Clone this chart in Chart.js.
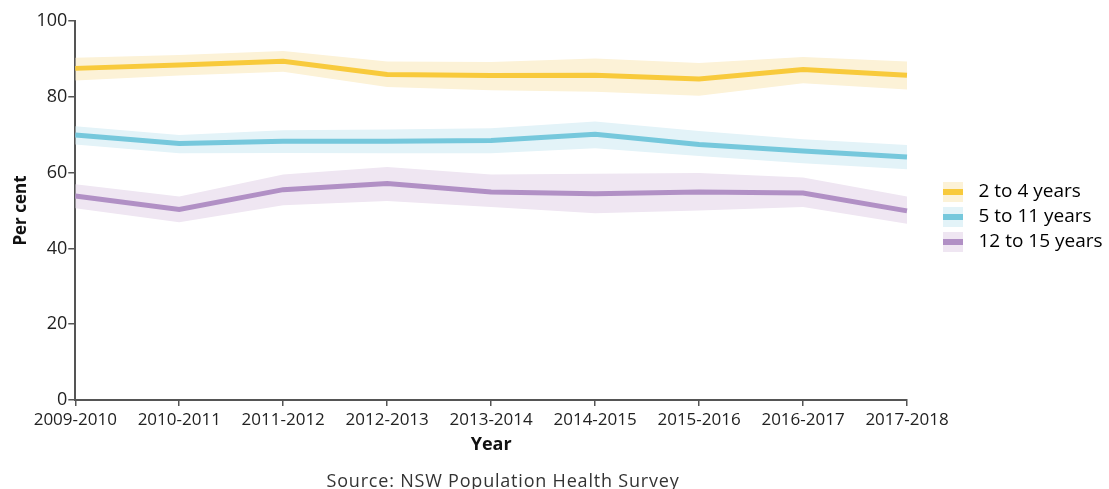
<!DOCTYPE html>
<html>
<head>
<meta charset="utf-8">
<script src="https://cdn.jsdelivr.net/npm/chart.js@4/dist/chart.umd.min.js"></script>
<style>
  html, body { margin: 0; padding: 0; background: #fff; }
  #wrap { position: relative; width: 1109px; height: 489px; }
  #source {
    position: absolute; left: 0; top: 468px; width: 1006px;
    text-align: center; font-family: "Open Sans", sans-serif; font-size: 18px;
    letter-spacing: 0.8px; color: #333;
  }
</style>
</head>
<body>
<div id="wrap">
  <canvas id="chart" width="1109" height="489"></canvas>
  <div id="source">Source: NSW Population Health Survey</div>
</div>
<script>
const years = ["2009-2010", "2010-2011", "2011-2012", "2012-2013", "2013-2014",
  "2014-2015", "2015-2016", "2016-2017", "2017-2018"];
const yTicks = [0, 20, 40, 60, 80, 100];

const age2to4 = [87.5, 88.4, 89.4, 85.9, 85.6, 85.7, 84.7, 87.2, 85.7];
const age2to4Upper = [90.3, 91.0, 92.1, 89.3, 89.2, 90.1, 88.9, 90.5, 89.3];
const age2to4Lower = [84.3, 85.6, 86.6, 82.6, 81.7, 81.3, 80.3, 83.6, 81.9];

const age5to11 = [69.9, 67.7, 68.3, 68.3, 68.5, 70.1, 67.4, 65.7, 64.1];
const age5to11Upper = [72.2, 69.9, 71.2, 71.4, 71.7, 73.5, 71.0, 68.8, 67.3];
const age5to11Lower = [67.4, 65.1, 65.2, 65.1, 65.1, 66.4, 64.4, 62.5, 60.9];

const age12to15 = [53.8, 50.3, 55.5, 57.1, 54.9, 54.4, 54.9, 54.6, 49.9];
const age12to15Upper = [56.9, 53.7, 59.5, 61.5, 59.5, 59.7, 59.9, 58.7, 53.7];
const age12to15Lower = [50.6, 46.9, 51.4, 52.5, 50.9, 49.3, 50.0, 50.9, 46.5];

const seriesNames = ["2 to 4 years", "5 to 11 years", "12 to 15 years"];
const lineColors = ["#f8ca3c", "#76c8dc", "#b190c5"];
const bandColors = ["#fcf2d7", "#e3f3f8", "#efe6f2"];

function legendIcon(lineColor, bandColor) {
  const c = document.createElement("canvas");
  c.width = 20; c.height = 20;
  const g = c.getContext("2d");
  g.fillStyle = bandColor;
  g.fillRect(0, 0, 20, 20);
  g.fillStyle = lineColor;
  g.fillRect(0, 7, 20, 6);
  return c;
}

function band(upper, lower, color) {
  return [
    { label: "upper", data: upper, borderWidth: 0, pointRadius: 0, backgroundColor: color,
      fill: "+1", tension: 0, order: 5 },
    { label: "lower", data: lower, borderWidth: 0, pointRadius: 0, backgroundColor: color,
      fill: false, tension: 0, order: 5 }
  ];
}

function line(name, data, color) {
  return { label: name, data: data, borderColor: color, backgroundColor: color, borderWidth: 5,
    pointRadius: 0, fill: false, tension: 0, order: 1 };
}

const datasets = [
  ...band(age2to4Upper, age2to4Lower, bandColors[0]),
  ...band(age5to11Upper, age5to11Lower, bandColors[1]),
  ...band(age12to15Upper, age12to15Lower, bandColors[2]),
  line(seriesNames[0], age2to4, lineColors[0]),
  line(seriesNames[1], age5to11, lineColors[1]),
  line(seriesNames[2], age12to15, lineColors[2])
];

const axisColor = "#555";
const font = "'Open Sans', sans-serif";

// legend sits in a fixed-width column right of the plot
const legendPlacement = {
  id: "legendPlacement",
  afterInit(chart) {
    const legend = chart.legend;
    const fit = legend.fit;
    legend.fit = function () {
      fit.call(this);
      this.width = 202;
    };
  },
  afterLayout(chart) {
    const legend = chart.legend;
    legend.left = 931;
    legend.top = 127;
    legend.bottom = 307;
  }
};

new Chart(document.getElementById("chart"), {
  type: "line",
  data: { labels: years, datasets: datasets },
  plugins: [legendPlacement],
  options: {
    responsive: false,
    animation: false,
    layout: { padding: { left: 7, right: 0, top: 21, bottom: 33 } },
    plugins: {
      filler: { drawTime: "beforeDatasetsDraw" },
      tooltip: { enabled: false },
      legend: {
        position: "right",
        align: "center",
        labels: {
          usePointStyle: true,
          pointStyleWidth: 32,
          font: { family: font, size: 19 },
          color: "#222",
          padding: 6,
          generateLabels: function () {
            return seriesNames.map((name, i) => ({
              text: name,
              pointStyle: legendIcon(lineColors[i], bandColors[i]),
              fillStyle: lineColors[i],
              strokeStyle: lineColors[i],
              lineWidth: 0,
              datasetIndex: 6 + i
            }));
          }
        }
      }
    },
    scales: {
      x: {
        offset: false,
        grid: { drawOnChartArea: false, drawTicks: true, tickLength: 6, color: axisColor, lineWidth: 1.5 },
        border: { color: axisColor, width: 2 },
        ticks: { font: { family: font, size: 17 }, color: "#222", maxRotation: 0, autoSkip: false, padding: 4 },
        title: { display: true, text: "Year", font: { family: font, size: 18, weight: "bold" }, color: "#111", padding: 0 }
      },
      y: {
        min: 0,
        max: 100,
        afterBuildTicks: function (axis) { axis.ticks = yTicks.map(v => ({ value: v })); },
        grid: { drawOnChartArea: false, drawTicks: true, tickLength: 7, color: axisColor, lineWidth: 1.5 },
        border: { color: axisColor, width: 2 },
        ticks: { font: { family: font, size: 18 }, color: "#222", padding: 1 },
        title: { display: true, text: "Per cent", font: { family: font, size: 17, weight: "bold" }, color: "#111", padding: 4 }
      }
    }
  }
});
</script>
</body>
</html>
